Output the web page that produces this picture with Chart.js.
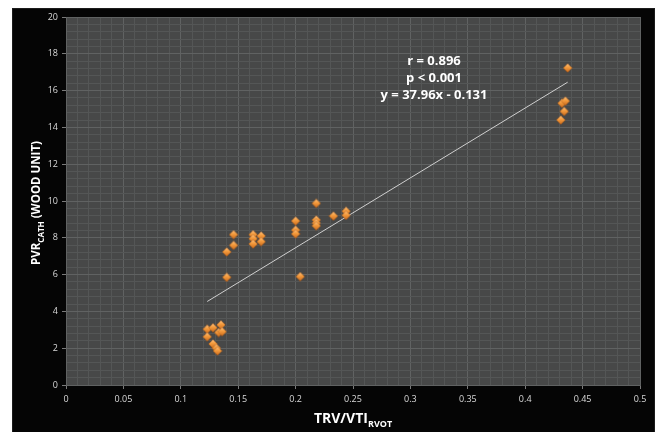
<!DOCTYPE html>
<html>
<head>
<meta charset="utf-8">
<script src="https://cdn.jsdelivr.net/npm/chart.js@4.4.1/dist/chart.umd.min.js"></script>
<style>
  html, body { margin: 0; padding: 0; background: #ffffff; overflow: hidden; }
  canvas { display: block; }
</style>
</head>
<body>
<canvas id="chart" width="657" height="432"></canvas>
<script>
// TRV/VTI(RVOT) ratio against catheter-measured PVR (Wood units)
const trvVti = [
  0.123, 0.128, 0.135, 0.133, 0.136, 0.123, 0.128, 0.131, 0.132,
  0.146, 0.146, 0.140, 0.163, 0.163, 0.163, 0.170, 0.170, 0.140,
  0.200, 0.200, 0.200, 0.204, 0.218, 0.218, 0.218, 0.218, 0.233,
  0.244, 0.244,
  0.437, 0.432, 0.435, 0.434, 0.431
];
const pvrCath = [
  3.03, 3.11, 3.27, 2.85, 2.90, 2.62, 2.23, 2.00, 1.85,
  8.17, 7.59, 7.23, 8.17, 7.95, 7.66, 8.10, 7.79, 5.85,
  8.91, 8.42, 8.21, 5.89, 9.87, 8.97, 8.80, 8.65, 9.18,
  9.44, 9.22,
  17.23, 15.31, 15.43, 14.87, 14.40
];

// Regression reported on the chart
const slope = 37.96;
const intercept = -0.131;
const statsLines = ['r = 0.896', 'p < 0.001', 'y = 37.96x - 0.131'];

const xTickLabels = ['0', '0.05', '0.1', '0.15', '0.2', '0.25', '0.3', '0.35', '0.4', '0.45', '0.5'];
const yTickLabels = ['0', '2', '4', '6', '8', '10', '12', '14', '16', '18', '20'];

const xTitle = ['TRV/VTI', 'RVOT', ''];
const yTitle = ['PVR', 'CATH', ' (WOOD UNIT)'];

const points = trvVti.map((x, i) => ({ x, y: pvrCath[i] }));
const xMin = Math.min(...trvVti);
const xMax = Math.max(...trvVti);
const fitLine = [
  { x: xMin, y: slope * xMin + intercept },
  { x: xMax, y: slope * xMax + intercept }
];

function labelFor(list, v) {
  const hit = list.find(t => Math.abs(parseFloat(t) - v) < 1e-6);
  return hit === undefined ? '' : hit;
}
const isMajorX = v => labelFor(xTickLabels, v) !== '';
const isMajorY = v => labelFor(yTickLabels, v) !== '';

// Shaded orange diamond marker
function diamondMarker() {
  const c = document.createElement('canvas');
  c.width = 10; c.height = 10;
  const g = c.getContext('2d');
  const grad = g.createLinearGradient(0, 0, 0, 10);
  grad.addColorStop(0, '#ffc98a');
  grad.addColorStop(0.45, '#f39a3c');
  grad.addColorStop(1, '#c5651a');
  g.beginPath();
  g.moveTo(5, 0.6); g.lineTo(9.4, 5); g.lineTo(5, 9.4); g.lineTo(0.6, 5);
  g.closePath();
  g.fillStyle = grad;
  g.fill();
  g.strokeStyle = 'rgba(150,70,10,0.6)';
  g.lineWidth = 0.6;
  g.stroke();
  return c;
}

const MAJOR_GRID = '#606262';
const MINOR_GRID = '#545656';

function drawSubscripted(ctx, parts, x, y, mainFont, subFont, subDrop) {
  ctx.font = mainFont; const w0 = ctx.measureText(parts[0]).width;
  ctx.font = subFont;  const w1 = ctx.measureText(parts[1]).width;
  ctx.font = mainFont; const w2 = ctx.measureText(parts[2]).width;
  let cx = x - (w0 + w1 + w2) / 2;
  ctx.textAlign = 'left';
  ctx.textBaseline = 'alphabetic';
  ctx.font = mainFont; ctx.fillText(parts[0], cx, y); cx += w0;
  ctx.font = subFont;  ctx.fillText(parts[1], cx, y + subDrop); cx += w1;
  ctx.font = mainFont; ctx.fillText(parts[2], cx, y);
}

const framePlugin = {
  id: 'frame',
  beforeDraw(chart) {
    const { ctx, chartArea: a } = chart;
    ctx.save();
    ctx.fillStyle = '#ffffff';
    ctx.fillRect(0, 0, chart.width, chart.height);
    ctx.fillStyle = '#050505';
    ctx.fillRect(12, 8, 643, 424);
    ctx.strokeStyle = '#1c1c1c';
    ctx.lineWidth = 1;
    ctx.strokeRect(12.5, 8.5, 642, 430);
    ctx.fillStyle = '#474848';
    ctx.fillRect(a.left, a.top, a.right - a.left, a.bottom - a.top);
    ctx.restore();
  },
  afterDraw(chart) {
    const { ctx, chartArea: a } = chart;
    ctx.save();
    ctx.fillStyle = '#ffffff';
    // Axis titles with subscripts
    drawSubscripted(ctx, xTitle, (a.left + a.right) / 2, 423,
      'bold 14px "Open Sans"', 'bold 9px "Open Sans"', 4);
    ctx.translate(40, (a.top + a.bottom) / 2 + 2);
    ctx.rotate(-Math.PI / 2);
    drawSubscripted(ctx, yTitle, 0, 0,
      'bold 11.5px "Open Sans"', 'bold 8px "Open Sans"', 3.5);
    ctx.restore();

    // Correlation statistics
    ctx.save();
    ctx.fillStyle = '#ffffff';
    ctx.font = 'bold 13px "Open Sans"';
    ctx.textAlign = 'center';
    ctx.textBaseline = 'middle';
    statsLines.forEach((t, i) => ctx.fillText(t, 434, 61 + i * 17));
    ctx.restore();
  }
};

new Chart(document.getElementById('chart'), {
  type: 'scatter',
  data: {
    datasets: [
      {
        label: 'PVR',
        data: points,
        pointStyle: diamondMarker(),
        pointRadius: 5,
        pointHoverRadius: 5
      },
      {
        label: 'Fit',
        data: fitLine,
        showLine: true,
        borderColor: '#cfcfcf',
        borderWidth: 1,
        pointRadius: 0,
        pointHoverRadius: 0,
        fill: false
      }
    ]
  },
  options: {
    responsive: false,
    animation: false,
    events: [],
    layout: { padding: { left: 0, right: 17, top: 17, bottom: 0 } },
    plugins: { legend: { display: false }, tooltip: { enabled: false } },
    scales: {
      x: {
        type: 'linear',
        min: 0, max: 0.5,
        afterFit(scale) { scale.height = 47; },
        border: { color: MAJOR_GRID, width: 1 },
        grid: {
          color: ctx => isMajorX(ctx.tick.value) ? MAJOR_GRID : MINOR_GRID,
          tickColor: ctx => isMajorX(ctx.tick.value) ? '#7a7a7a' : 'rgba(0,0,0,0)',
          tickLength: 4,
          lineWidth: 1
        },
        ticks: {
          stepSize: 0.01,
          maxTicksLimit: 200,
          autoSkip: false,
          maxRotation: 0,
          padding: 5,
          color: '#d9d9d9',
          font: { family: 'Open Sans', size: 9 },
          callback: v => labelFor(xTickLabels, v)
        }
      },
      y: {
        type: 'linear',
        min: 0, max: 20,
        afterFit(scale) { scale.width = 66; },
        border: { color: MAJOR_GRID, width: 1 },
        grid: {
          color: ctx => isMajorY(ctx.tick.value) ? MAJOR_GRID : MINOR_GRID,
          tickColor: ctx => isMajorY(ctx.tick.value) ? '#7a7a7a' : 'rgba(0,0,0,0)',
          tickLength: 4,
          lineWidth: 1
        },
        ticks: {
          stepSize: 0.4,
          maxTicksLimit: 200,
          autoSkip: false,
          padding: 4,
          color: '#d9d9d9',
          font: { family: 'Open Sans', size: 9 },
          callback: v => labelFor(yTickLabels, v)
        }
      }
    }
  },
  plugins: [framePlugin]
});
</script>
</body>
</html>
